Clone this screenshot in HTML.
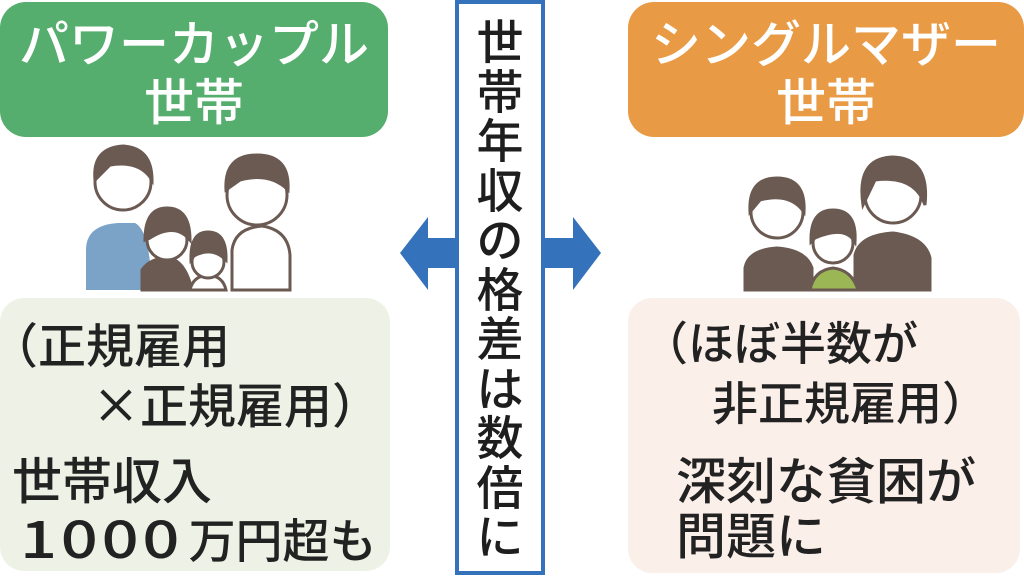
<!DOCTYPE html>
<html><head><meta charset="utf-8"><style>
*{margin:0;padding:0;box-sizing:border-box}
body{width:1024px;height:588px;background:#fff;position:relative;overflow:hidden;font-family:"Noto Sans CJK JP",sans-serif}
.abs{position:absolute}
.hdr{border-radius:26px;color:#fff;text-align:center;font-size:50px;line-height:58px;padding-top:10px;font-weight:500}
.box{border-radius:24px;color:#222;font-size:48px;font-weight:500}
.box div{position:absolute;white-space:nowrap;line-height:1}
.dg{display:inline-block;font-size:52px;transform:scaleX(1.25);transform-origin:left;margin-right:38px;letter-spacing:3px}
</style></head><body>
<div class="abs hdr" style="left:0;top:2px;width:388px;height:135px;background:#55ad6e">パワーカップル<br>世帯</div>
<div class="abs hdr" style="left:628px;top:2px;width:396px;height:135px;background:#e99a45">シングルマザー<br>世帯</div>

<div class="abs box" style="left:0;top:298px;width:390px;height:273px;background:#eef2e6">
<div style="left:-10px;top:20px">（正規雇用</div>
<div style="left:92px;top:80px">×正規雇用）</div>
<div style="left:12px;top:155px;font-size:50px">世帯収入</div>
<div style="left:20px;top:212px;font-size:47px"><span class="dg">1000</span>万円超も</div>
</div>
<div class="abs box" style="left:628px;top:298px;width:392px;height:275px;background:#fbefea">
<div style="left:14px;top:20px;font-size:46px">（ほぼ半数が</div>
<div style="left:84px;top:80px;font-size:46px">非正規雇用）</div>
<div style="left:48px;top:155px;font-size:50px">深刻な貧困が</div>
<div style="left:48px;top:210px;font-size:50px">問題に</div>
</div>

<div class="abs" style="left:455px;top:0;width:90px;height:575px;border:4px solid #3473bb;background:#fff"></div>
<div class="abs" style="left:455px;top:14px;width:90px;text-align:center;font-size:47px;line-height:49.5px;color:#1e1e1e;font-weight:500">世<br>帯<br>年<br>収<br>の<br>格<br>差<br>は<br>数<br>倍<br>に</div>

<svg class="abs" style="left:0;top:0" width="1024" height="588">
<polygon points="400,253 428,217 428,238 455,238 455,268 428,268 428,290" fill="#3473bb"/>
<polygon points="601,253 573,217 573,238 545,238 545,268 573,268 573,290" fill="#3473bb"/>
<g stroke="#6b5a52" stroke-width="3">
<path d="M86,290 V250 Q86,225 118,223 H135 Q150,230 152,290 Z" fill="#7ba3c8" stroke="none"/>
<circle cx="123" cy="182" r="28" fill="#fff"/>
<path d="M95,180 Q92,148 123,146 Q152,148 152,180 Q140,160 110,165 Z" fill="#6b5a52"/>
<path d="M232,290 V250 Q235,228 262,226 Q288,230 290,255 V290 Z" fill="#fff"/>
<circle cx="257" cy="195" r="30" fill="#fff"/>
<path d="M226,190 Q224,155 257,155 Q290,155 288,190 Q270,172 240,180 Z" fill="#6b5a52"/>
<path d="M142,290 V270 Q150,258 168,258 Q185,260 192,290 Z" fill="#6b5a52"/>
<circle cx="167" cy="240" r="20" fill="#fff"/>
<path d="M145,240 Q145,208 167,208 Q190,208 190,240 Q175,222 150,238 Z" fill="#6b5a52"/>
<path d="M190,290 Q193,276 208,275 Q223,276 226,290 Z" fill="#fff"/>
<circle cx="208" cy="262" r="16" fill="#fff"/>
<path d="M191,260 Q190,232 208,232 Q227,232 226,260 Q212,246 194,256 Z" fill="#6b5a52"/>
<path d="M745,290 V268 Q748,250 777,248 Q806,250 812,268 V290 Z" fill="#6b5a52"/>
<circle cx="777" cy="212" r="26" fill="#fff"/>
<path d="M750,212 Q748,178 777,178 Q806,178 804,212 Q790,192 760,200 Z" fill="#6b5a52"/>
<path d="M855,290 V255 Q860,235 893,233 Q925,237 930,258 V290 Z" fill="#6b5a52"/>
<circle cx="893" cy="195" r="28" fill="#fff"/>
<path d="M863,205 Q856,158 893,157 Q930,158 925,205 Q915,175 875,180 Z" fill="#6b5a52"/>
<path d="M810,290 Q814,270 833,268 Q852,270 858,290 Z" fill="#9bb654"/>
<circle cx="833" cy="243" r="20" fill="#fff"/>
<path d="M811,242 Q810,210 833,210 Q857,210 855,242 Q845,225 815,238 Z" fill="#6b5a52"/>
</g>
</svg>
</body></html>
